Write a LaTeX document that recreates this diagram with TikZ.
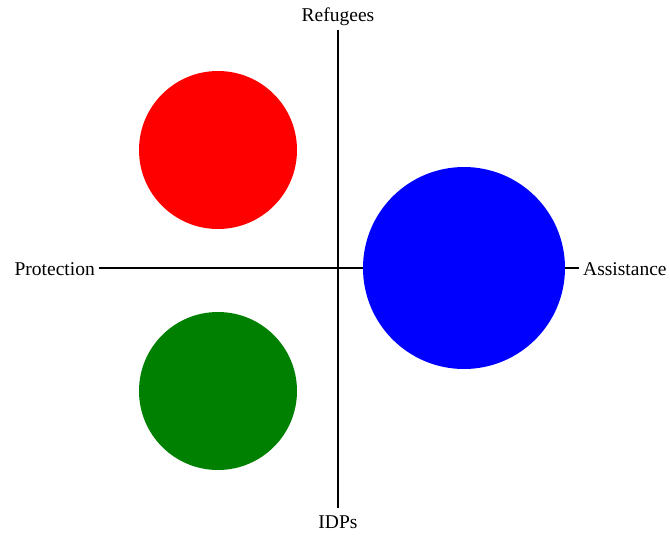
\documentclass[tikz,border=0pt]{standalone}
\usepackage{fontspec}
\setmainfont{Liberation Serif}
\definecolor{cred}{HTML}{FF0000}
\definecolor{cgreen}{HTML}{008000}
\definecolor{cblue}{HTML}{0000FF}
\begin{document}
\begin{tikzpicture}[x=1pt,y=-1pt,
  lbl/.style={inner sep=0pt,font=\fontsize{19.5}{23}\selectfont},
  axis/.style={line width=2pt,black},
  blob/.style={circle,inner sep=0pt,draw=none}]
\useasboundingbox (0,0) rectangle (670,536);
\node[lbl] (ref) at (338,17) {Refugees};
\node[lbl] (idp) at (338,522) {IDPs};
\node[lbl,anchor=east] (prot) at (95,269) {Protection};
\node[lbl,anchor=west] (assist) at (583,269) {Assistance};
\coordinate (vt) at (338,30);
\coordinate (vb) at (338,508);
\coordinate (hl) at (99,268);
\coordinate (hr) at (579,268);
\draw[axis] (vt) -- (vb);
\draw[axis] (hl) -- (hr);
\node[blob,fill=cred,minimum size=158] (red) at (218,150) {};
\node[blob,fill=cgreen,minimum size=158] (green) at (218,391) {};
\node[blob,fill=cblue,minimum size=202] (blue) at (464,268) {};
\end{tikzpicture}
\end{document}
